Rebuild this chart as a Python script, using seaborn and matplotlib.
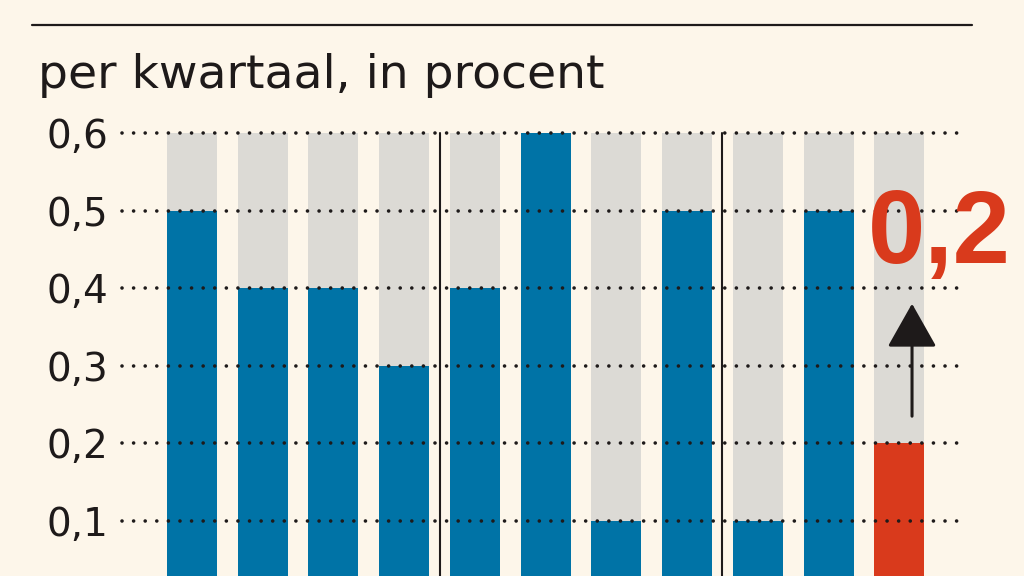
import matplotlib
matplotlib.use("Agg")
import matplotlib.pyplot as plt
import seaborn as sns
import pandas as pd
from matplotlib.lines import Line2D

# data
quarters = ["K1 2022", "K2 2022", "K3 2022", "K4 2022",
            "K1 2023", "K2 2023", "K3 2023", "K4 2023",
            "K1 2024", "K2 2024", "K3 2024"]
values = [0.5, 0.4, 0.4, 0.3, 0.4, 0.6, 0.1, 0.5, 0.1, 0.5, 0.2]
background_max = 0.6
yticks = [0.1, 0.2, 0.3, 0.4, 0.5, 0.6]
ytick_labels = ["0,1", "0,2", "0,3", "0,4", "0,5", "0,6"]
title = "per kwartaal, in procent"
highlight_label = "0,2"

BG = "#fdf6ea"
BLUE = "#0073a6"
RED = "#d93a1c"
GRAY = "#dcdad5"
INK = "#1e1a1a"

sns.set_theme(style="white")
plt.rcParams["font.family"] = ["DejaVu Sans"]

df = pd.DataFrame({"kwartaal": quarters, "waarde": values,
                   "achtergrond": [background_max] * len(quarters)})
bar_colors = [BLUE] * (len(values) - 1) + [RED]

fig = plt.figure(figsize=(10.24, 5.76), dpi=100, facecolor=BG)
ax = fig.add_axes([122 / 1024, 0, 836 / 1024, 443 / 576])
ax.set_facecolor(BG)

sns.barplot(data=df, x="kwartaal", y="achtergrond", color=GRAY, width=0.707,
            ax=ax, zorder=1, saturation=1, linewidth=0)
sns.barplot(data=df, x="kwartaal", y="waarde", hue="kwartaal",
            palette=bar_colors, width=0.707, ax=ax, zorder=2,
            legend=False, saturation=1, linewidth=0)

ax.set_xlim(-0.99, 10.83)
ax.set_ylim(0.029, 0.6)

for y in yticks:
    ax.axhline(y, color=INK, lw=2.6, ls=(0, (0.01, 3.2)),
               dash_capstyle="round", zorder=3, clip_on=False)

# year separators
for xs in [3.5, 7.5]:
    ax.plot([xs, xs], [0.0, 0.6], color=INK, lw=1.5, zorder=4, clip_on=False)

ax.set_yticks(yticks)
ax.set_yticklabels(ytick_labels, fontsize=28, color=INK)
ax.tick_params(axis="y", length=0, pad=10)
ax.set_xticks([])
ax.set_xlabel("")
ax.set_ylabel("")
for s in ax.spines.values():
    s.set_visible(False)

# highlight label and arrow
ax.text(9.55, 0.432, highlight_label, color=RED, fontsize=74,
        fontweight="bold", family=["Liberation Sans", "DejaVu Sans"],
        ha="left", va="baseline", zorder=5, clip_on=False)
ax.annotate("", xy=(10.18, 0.38), xytext=(10.18, 0.235),
            arrowprops=dict(arrowstyle="-|>,head_width=1.3,head_length=2.3",
                            color=INK, lw=2.2, shrinkA=0, shrinkB=0),
            zorder=5)

fig.text(38 / 1024, 1 - 88 / 576, title, fontsize=34, color=INK,
         ha="left", va="baseline")
fig.add_artist(Line2D([32 / 1024, 972 / 1024], [1 - 25 / 576, 1 - 25 / 576],
                      color=INK, lw=1.6, transform=fig.transFigure))

fig.savefig("out.png", dpi=100, facecolor=BG)
